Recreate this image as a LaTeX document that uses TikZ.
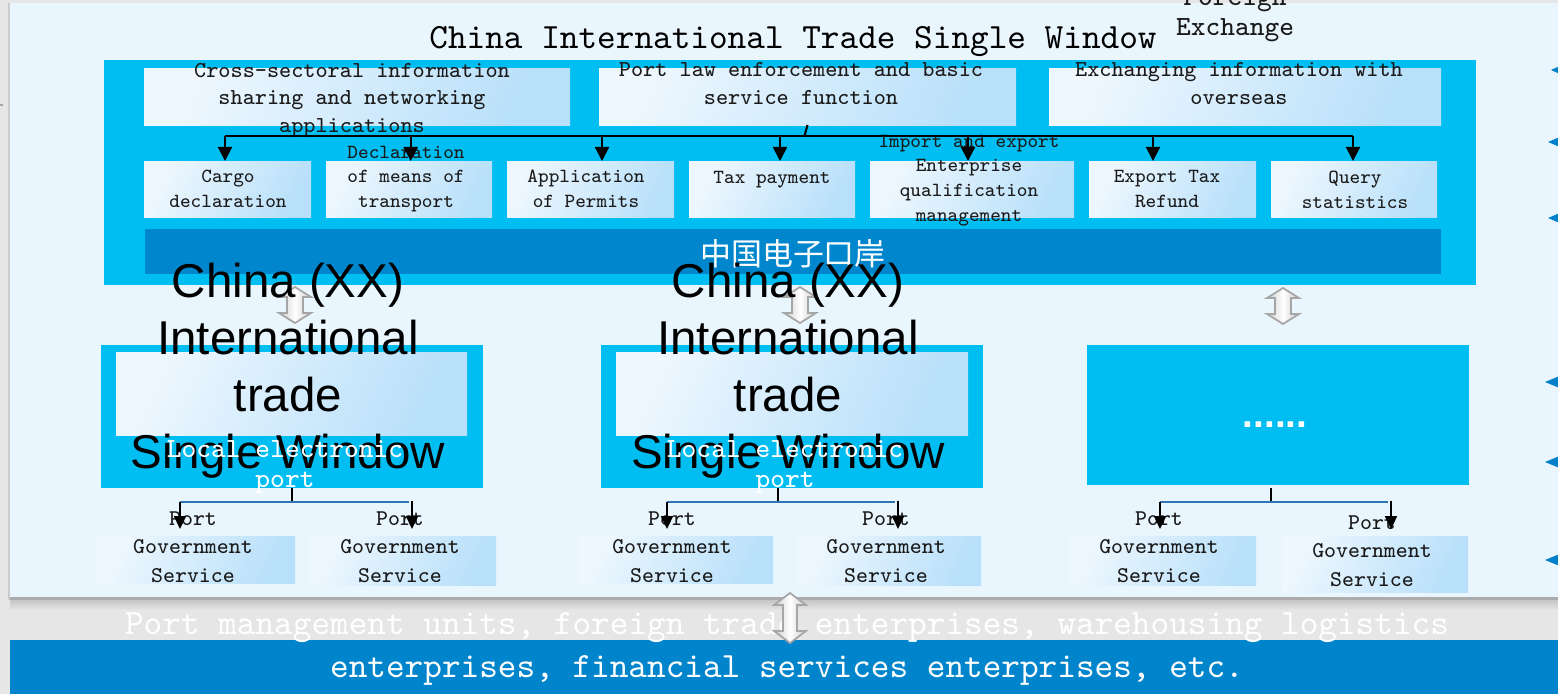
\documentclass[tikz,border=0pt]{standalone}
\usepackage{fontspec}
\newfontfamily\arialf{Liberation Sans}
\newfontfamily\cjkf{Noto Sans CJK SC}
\usetikzlibrary{arrows.meta,calc}
\definecolor{outer}{HTML}{E6E6E6}
\definecolor{panel}{HTML}{EAF6FE}
\definecolor{cyanb}{HTML}{00BEF2}
\definecolor{darkb}{HTML}{0086CC}
\definecolor{bandb}{HTML}{0085CC}
\definecolor{gA}{HTML}{EEF7FE}
\definecolor{gB}{HTML}{B8E0FA}
\definecolor{hl}{HTML}{2E75B6}
\definecolor{tri}{HTML}{0080C8}
\definecolor{txt}{HTML}{1A1A1A}
\newcommand\mybox[6]{\node[#6, minimum width={(#4-#2)*0.01cm}, minimum height={(#5-#3)*0.01cm}] (#1) at ({(#2+#4)/2},{(#3+#5)/2}) {};}
\tikzset{
  every node/.style={inner sep=0pt, outer sep=0pt},
  cyanbox/.style={rectangle, fill=cyanb, draw=none},
  gbox/.style={rectangle, top color=gB, bottom color=gA, shading angle=-115, draw=none},
  barbox/.style={rectangle, fill=darkb, draw=none},
  bt/.style={anchor=base, align=center, text=txt, font=\ttfamily\fontsize{6.5}{7.8}\selectfont},
  st/.style={anchor=base, align=center, text=txt, font=\ttfamily\fontsize{5.7}{7}\selectfont},
  pt/.style={anchor=base, align=center, text=txt, font=\ttfamily\fontsize{6.4}{8.1}\selectfont},
  lt/.style={anchor=base, align=center, text=white, font=\ttfamily\fontsize{7.9}{8.5}\selectfont},
  bigt/.style={anchor=base, align=center, text=black, font=\arialf\fontsize{13.5}{16.2}\selectfont},
  arr/.style={-{Triangle[width=0.14cm,length=0.14cm]}, line width=0.6pt, black},
  sarr/.style={-{Triangle[width=0.12cm,length=0.13cm]}, line width=0.6pt, black},
  stemline/.style={line width=0.6pt, black},
  hline/.style={line width=0.45pt, hl},
  dbl/.style={draw=gray!70, line width=0.5pt, left color=gray!40, right color=gray!40, middle color=white},
  pics/udarrow/.style n args={4}{code={
    \path[pic actions] (0,-#1) -- (#3,-#1+#4) -- (#2,-#1+#4) -- (#2,#1-#4) -- (#3,#1-#4) -- (0,#1)
      -- (-#3,#1-#4) -- (-#2,#1-#4) -- (-#2,-#1+#4) -- (-#3,-#1+#4) -- cycle;}}
}
\begin{document}
\begin{tikzpicture}[x=0.01cm, y=-0.01cm]
\useasboundingbox (0,0) rectangle (1558,694);
% backgrounds
\fill[outer] (0,0) rectangle (1558,694);
\fill[gray!40] (8,3) rectangle (10,600);
\fill[panel] (10,3) rectangle (1558,598);
\fill[gray!65] (10,597) rectangle (1558,600);
\shade[top color=gray!45, bottom color=outer] (10,600) rectangle (1558,610);
\fill[bandb] (10,640) rectangle (1558,694);
\draw[gray!70, line width=0.5pt] (0,105) -- (3,105);

% title (base anchor of a multi-line node = baseline of its last line)
\node[anchor=base, text=black, font=\ttfamily\fontsize{10.1}{12}\selectfont] (title) at (793,48) {China International Trade Single Window};
\node[lt, text=txt] (fx) at (1235,35) {Foreign\\Exchange};

% China electronic port block
\mybox{cep}{104}{60}{1476}{285}{cyanbox}
\mybox{s1}{144}{68}{570}{125}{gbox}
\mybox{s2}{599}{68}{1016}{125}{gbox}
\mybox{s3}{1049}{68}{1441}{125}{gbox}
\mybox{c1}{144}{161}{311}{217}{gbox}
\mybox{c2}{326}{161}{492}{217}{gbox}
\mybox{c3}{507}{161}{674}{217}{gbox}
\mybox{c4}{689}{161}{855}{217}{gbox}
\mybox{c5}{870}{161}{1074}{217}{gbox}
\mybox{c6}{1089}{161}{1256}{217}{gbox}
\mybox{c7}{1271}{161}{1437}{217}{gbox}
\mybox{bar}{145}{229}{1441}{274}{barbox}

\node[bt] (s1t) at (352,132) {Cross-sectoral information\\sharing and networking\\applications};
\node[bt] (s2t) at (801,104) {Port law enforcement and basic\\service function};
\node[bt] (s3t) at (1239,104) {Exchanging information with\\overseas};

\node[st] (c1t) at (228,207.5) {Cargo\\declaration};
\node[st] (c2t) at (406,207.5) {Declaration\\of means of\\transport};
\node[st] (c3t) at (586,207.5) {Application\\of Permits};
\node[st] (c4t) at (772,183) {Tax payment};
\node[st] (c5t) at (969,221) {Import and export\\Enterprise\\qualification\\management};
\node[st] (c6t) at (1167,207.5) {Export Tax\\Refund};
\node[st] (c7t) at (1355,208.5) {Query\\statistics};

\node[anchor=base, text=white, font=\cjkf\fontsize{8.8}{10}\selectfont] (cn) at (793,265) {中国电子口岸};

% bus connectors
\coordinate (bus) at (0,136);
\draw[stemline] ($(s2.south)+(0,0)$) -- ($(s2.south |- bus)+(-3,0)$);
\coordinate (k1) at ($(c1.north)+(-2.5,0)$);
\coordinate (k2) at ($(c2.north)+(1.7,0)$);
\coordinate (k3) at ($(c3.north)+(11.5,0)$);
\coordinate (k4) at ($(c4.north)+(8,0)$);
\coordinate (k5) at ($(c5.north)+(-4,0)$);
\coordinate (k6) at ($(c6.north)+(-19.5,0)$);
\coordinate (k7) at ($(c7.north)+(-1,0)$);
\draw[stemline] (k1 |- bus) -- (k7 |- bus);
\foreach \k in {k1,k2,k3,k4,k5,k6,k7}{\draw[arr] (\k |- bus) -- (\k);}

% double arrows
\pic[dbl] at (295,305) {udarrow={18}{8}{16}{10}};
\pic[dbl] at (800,305) {udarrow={18}{8}{16}{10}};
\pic[dbl] at (1283,306) {udarrow={18}{8}{16}{10}};

% local single windows
\mybox{l1}{101}{345}{483}{488}{cyanbox}
\mybox{l1i}{116}{352}{467}{435}{gbox}
\mybox{l2}{601}{345}{983}{488}{cyanbox}
\mybox{l2i}{616}{352}{968}{435}{gbox}
\mybox{l3}{1087}{345}{1469}{485}{cyanbox}
\node[anchor=base, text=white, font=\arialf\bfseries\fontsize{11}{12}\selectfont] (dots) at (1275,427) {......};

% port government service boxes
\mybox{p1a}{97}{536}{295}{583}{gbox}
\mybox{p1b}{310}{536}{496}{585}{gbox}
\mybox{p2a}{578}{536}{773}{583}{gbox}
\mybox{p2b}{798}{536}{981}{585}{gbox}
\mybox{p3a}{1069}{536}{1256}{585}{gbox}
\mybox{p3b}{1282}{536}{1468}{592}{gbox}
\node[pt] (p1at) at (193,582) {Port\\Government\\Service};
\node[pt] (p1bt) at (400,582) {Port\\Government\\Service};
\node[pt] (p2at) at (672,582) {Port\\Government\\Service};
\node[pt] (p2bt) at (886,582) {Port\\Government\\Service};
\node[pt] (p3at) at (1159,582) {Port\\Government\\Service};
\node[pt] (p3bt) at (1372,586) {Port\\Government\\Service};

% branches
\coordinate (br) at (0,502);
\coordinate (m1) at ($(l1.south)+(0,0)$);
\coordinate (m2) at ($(l2.south)+(-14,0)$);
\coordinate (m3) at ($(l3.south)+(-7,3)$);
\coordinate (a1) at ($(p1a.north)+(-16,0)$);
\coordinate (b1) at ($(p1b.north)+(9,0)$);
\coordinate (a2) at ($(p2a.north)+(-8.5,0)$);
\coordinate (b2) at ($(p2b.north)+(8.5,0)$);
\coordinate (a3) at ($(p3a.north)+(-2.5,0)$);
\coordinate (b3) at ($(p3b.north)+(16,0)$);
\foreach \m/\a/\b in {m1/a1/b1, m2/a2/b2, m3/a3/b3}{
  \draw[stemline] (\m) -- (\m |- br);
  \draw[hline] (\a |- br) -- ($(\b |- br)+(-3,0)$);
  \draw[sarr] (\a |- br) -- ($(\a)+(0,-7)$);
  \draw[sarr] ($(\b |- br)+(0,-1)$) -- ($(\b)+(0,-7)$);
}

% big overlapping text
\node[bigt] (w1) at (288,468) {China (XX)\\International\\trade\\Single Window};
\node[bigt] (w2) at (788,468) {China (XX)\\International\\trade\\Single Window};
\node[lt] (e1) at (285,487) {Local electronic\\port};
\node[lt] (e2) at (785,487) {Local electronic\\port};

% bottom band
\node[anchor=base, align=center, text=white, font=\ttfamily\fontsize{10.1}{12.2}\selectfont] (btm) at (787,677) {Port management units, foreign trade enterprises, warehousing logistics\\enterprises, financial services enterprises, etc.};
\pic[dbl] at (790,618) {udarrow={25}{7}{16}{12}};

% right edge triangles
\fill[tri] (1551,70) -- (1562,65) -- (1562,75) -- cycle;
\fill[tri] (1548,142) -- (1562,136) -- (1562,148) -- cycle;
\fill[tri] (1548,218) -- (1562,212) -- (1562,224) -- cycle;
\fill[tri] (1545,382) -- (1562,375) -- (1562,389) -- cycle;
\fill[tri] (1545,462) -- (1562,455) -- (1562,469) -- cycle;
\fill[tri] (1545,560) -- (1562,553) -- (1562,567) -- cycle;
\end{tikzpicture}
\end{document}
